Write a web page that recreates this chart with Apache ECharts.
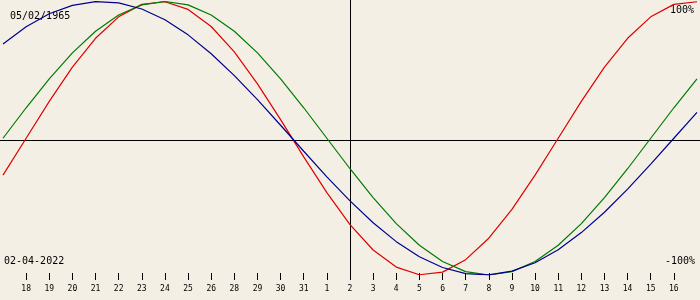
<!DOCTYPE html>
<html>
<head>
<meta charset="utf-8">
<script src="https://cdn.jsdelivr.net/npm/echarts@6/dist/echarts.min.js"></script>
<style>html,body{margin:0;padding:0;background:#F3EFE4;}#c{width:700px;height:300px;}</style>
</head>
<body>
<div id="c"></div>
<script>
// Day labels along the bottom (index 0 and 30 are the chart edges, unlabeled)
const dayLabels = ['', '18','19','20','21','22','23','24','25','26','28','29','30','31',
  '1','2','3','4','5','6','7','8','9','10','11','12','13','14','15','16',''];
// Values in percent, one per day
const physical = [-27.0, 0, 27.0, 52.0, 73.1, 88.8, 97.9, 99.8, 94.2, 81.7, 63.1, 39.8, 13.6, -13.6,
  -39.8, -63.1, -81.7, -94.2, -99.8, -97.9, -88.8, -73.1, -52.0, -27.0, 0, 27.0, 52.0, 73.1, 88.8, 97.9, 99.8];
const emotional = [0, 22.3, 43.4, 62.4, 78.2, 90.1, 97.5, 100, 97.5, 90.1, 78.2, 62.4, 43.4, 22.3,
  0, -22.3, -43.4, -62.4, -78.2, -90.1, -97.5, -100, -97.5, -90.1, -78.2, -62.4, -43.4, -22.3, 0, 22.3, 43.4];
const intellectual = [69.0, 81.5, 91.0, 97.2, 99.9, 99.0, 94.5, 86.6, 75.6, 61.8, 45.8, 28.2, 9.5, -9.5,
  -28.2, -45.8, -61.8, -75.6, -86.6, -94.5, -99.0, -99.9, -97.2, -91.0, -81.5, -69.0, -54.1, -37.2, -18.9, 0, 18.9];
const birthDate = '05/02/1965';
const currentDate = '02-04-2022';
const topLabel = '100%';
const bottomLabel = '-100%';
const centerIndex = 15;

const chart = echarts.init(document.getElementById('c'), null, {renderer: 'canvas'});
const mono = 'DejaVu Sans Mono';
chart.setOption({
  backgroundColor: '#F3EFE4',
  animation: false,
  grid: {left: 0, right: 0, top: 1.5, height: 273.5},
  xAxis: {
    type: 'category', data: dayLabels, boundaryGap: false, offset: -2,
    axisLine: {show: false, onZero: false},
    axisTick: {show: true, length: 7, lineStyle: {color: '#000', width: 1},
      interval: (i, v) => v !== '' && i !== centerIndex},
    axisLabel: {interval: 0, margin: 12, fontFamily: mono, fontSize: 8, color: '#000'},
    splitLine: {show: false}
  },
  yAxis: {type: 'value', min: -100, max: 100, show: false},
  series: [
    {type: 'line', data: physical, showSymbol: false, lineStyle: {color: '#E00000', width: 1.2}, itemStyle: {color: '#E00000'}},
    {type: 'line', data: emotional, showSymbol: false, lineStyle: {color: '#007A00', width: 1.2}, itemStyle: {color: '#007A00'}},
    {type: 'line', data: intellectual, showSymbol: false, lineStyle: {color: '#000090', width: 1.2}, itemStyle: {color: '#000090'}}
  ],
  graphic: [
    {type: 'line', shape: {x1: 0, y1: 140.5, x2: 700, y2: 140.5}, style: {stroke: '#000', lineWidth: 1}, z: 0},
    {type: 'line', shape: {x1: 350.5, y1: 0, x2: 350.5, y2: 280}, style: {stroke: '#000', lineWidth: 1}, z: 0},
    {type: 'text', left: 10, top: 11, style: {text: birthDate, font: '10px ' + mono, fill: '#000'}},
    {type: 'text', left: 4, top: 256, style: {text: currentDate, font: '10px ' + mono, fill: '#000'}},
    {type: 'text', right: 6, top: 5, style: {text: topLabel, font: '10px ' + mono, fill: '#000'}},
    {type: 'text', right: 5, top: 256, style: {text: bottomLabel, font: '10px ' + mono, fill: '#000'}}
  ]
});
</script>
</body>
</html>
